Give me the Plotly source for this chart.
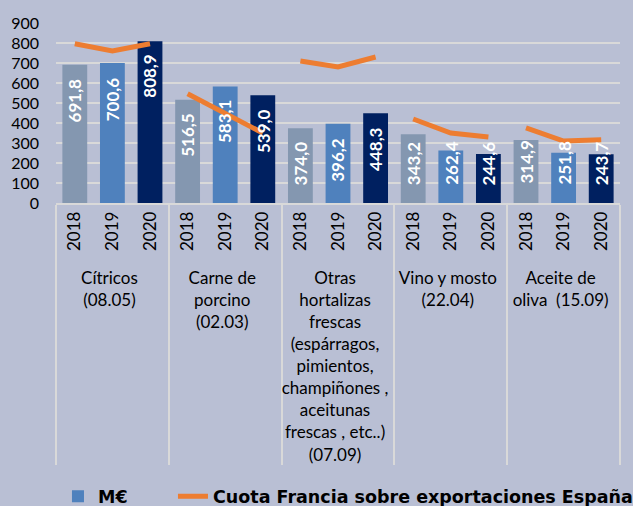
import plotly.graph_objects as go

years = ["2018", "2019", "2020"]
categories = [
    "Cítricos<br>(08.05)",
    "Carne de<br>porcino<br>(02.03)",
    "Otras<br>hortalizas<br>frescas<br>(espárragos,<br>pimientos,<br>champiñones ,<br>aceitunas<br>frescas , etc..)<br>(07.09)",
    "Vino y mosto<br>(22.04)",
    "Aceite de<br>oliva  (15.09)",
]
values_2018 = [691.8, 516.5, 374.0, 343.2, 314.9]
values_2019 = [700.6, 583.1, 396.2, 262.4, 251.8]
values_2020 = [808.9, 539.0, 448.3, 244.6, 243.7]
# Cuota Francia sobre exportaciones España (hidden secondary scale), per category 2018-2020
share_citricos = [39.8, 38.0, 39.8]
share_porcino = [27.3, 22.5, 17.5]
share_hortalizas = [35.5, 34.0, 36.5]
share_vino = [21.0, 17.5, 16.5]
share_aceite = [18.8, 15.5, 15.8]

shares = [share_citricos, share_porcino, share_hortalizas, share_vino, share_aceite]
bar_values = {"2018": values_2018, "2019": values_2019, "2020": values_2020}
bar_colors = {"2018": "#8497B0", "2019": "#4F81BD", "2020": "#002060"}

BG = "rgb(185,191,212)"
fig = go.Figure()

for yr in years:
    fig.add_trace(go.Bar(
        x=[categories, [yr] * len(categories)],
        y=bar_values[yr],
        marker=dict(color=bar_colors[yr], line=dict(width=0)),
        width=0.66,
        name="M€",
        showlegend=(yr == "2019"),
        legend="legend",
    ))

for i, cat in enumerate(categories):
    fig.add_trace(go.Scatter(
        x=[[cat] * 3, years],
        y=shares[i],
        yaxis="y2",
        mode="lines",
        line=dict(color="#ED7D31", width=5),
        name="Cuota Francia sobre exportaciones España",
        showlegend=(i == 0),
        legend="legend2",
    ))

# value labels
annotations = []
idx = 0
for ci, cat in enumerate(categories):
    for yr in years:
        v = bar_values[yr][ci]
        annotations.append(dict(
            x=idx, y=max(v, 380), xref="x", yref="y",
            text=f"{v:.1f}".replace(".", ","),
            textangle=-90, showarrow=False,
            yanchor="top", xanchor="center", yshift=-12,
            font=dict(family="Lato", size=17, color="white", weight="bold"),
        ))
        idx += 1

legend_font = dict(family="DejaVu Sans", size=17.5, color="black", weight="bold")

fig.update_layout(
    width=633, height=506,
    margin=dict(l=56, r=13, t=23, b=303, autoexpand=False),
    paper_bgcolor=BG, plot_bgcolor=BG,
    barmode="overlay",
    showlegend=True,
    legend=dict(
        orientation="h", x=0.0035, xanchor="left", y=-1.53, yanchor="top",
        font=legend_font, bgcolor="rgba(0,0,0,0)",
    ),
    legend2=dict(
        orientation="h", x=0.2074, xanchor="left", y=-1.53, yanchor="top",
        font=legend_font, bgcolor="rgba(0,0,0,0)",
    ),
    annotations=annotations,
    xaxis=dict(
        type="multicategory",
        tickangle=-90,
        tickfont=dict(family="Lato", size=17, color="black"),
        showdividers=True, dividercolor="#D9D9D9", dividerwidth=1.5,
        showline=True, linecolor="#D9D9D9", linewidth=1.5,
        showgrid=False, ticks="", automargin=False,
    ),
    yaxis=dict(
        range=[0, 900], dtick=100,
        tickfont=dict(family="Lato", size=16, color="black"),
        gridcolor="#D9D9D9", gridwidth=1.5,
        zeroline=False, showline=False,
        ticklabelstandoff=16, automargin=False,
    ),
    yaxis2=dict(range=[0, 45], overlaying="y", visible=False, showgrid=False),
)

fig.write_html(
    "out.html",
    config={"displayModeBar": False},
    post_script="document.body.style.margin='0';document.body.style.overflow='hidden';",
)
